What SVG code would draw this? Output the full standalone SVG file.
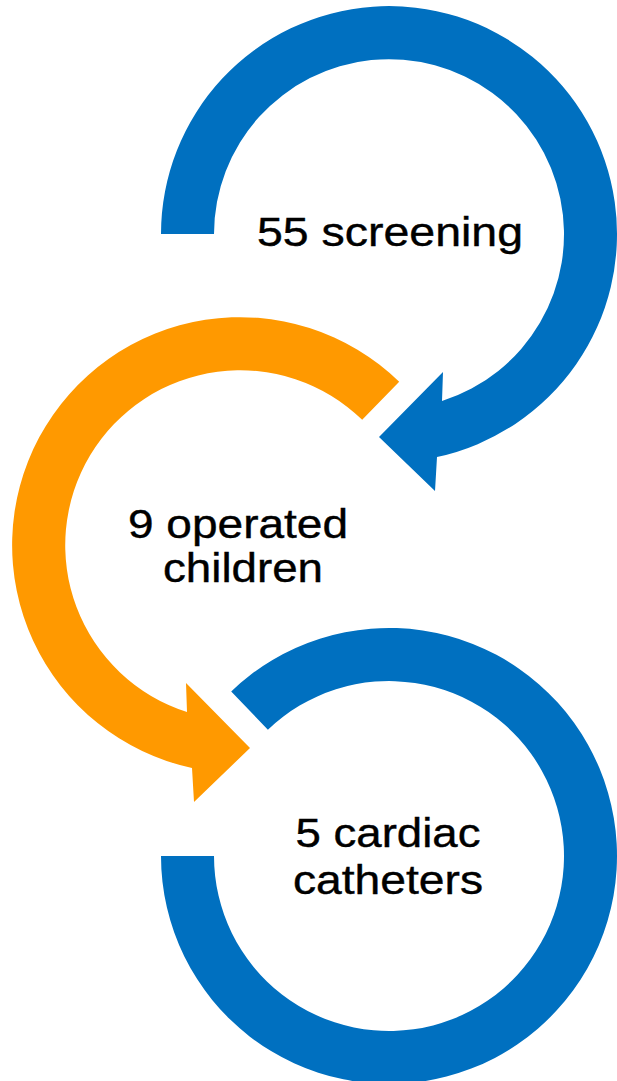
<svg xmlns="http://www.w3.org/2000/svg" width="617" height="1081" viewBox="0 0 617 1081">
  <style>
    .blue { fill: #0070C0; }
    .orange { fill: #FF9900; }
    .label { font-family: "Liberation Sans", Arial, sans-serif; font-size: 41px; fill: #000000; text-anchor: middle; stroke: #000000; stroke-width: 0.4px; }
  </style>
  <rect x="0" y="0" width="617" height="1081" fill="#FFFFFF"/>
  <g id="connectors">
    <path id="arc-screening" class="blue" d="M 161 234 A 228 228 0 1 1 437 457 L 435 491 L 379 437 L 443 372 L 442 401 A 175 175 0 1 0 214 234 Z"/>
    <path id="arc-operated" class="orange" d="M 399.2 381.8 A 228 228 0 1 0 192 768 L 194 802 L 250 748 L 186 683 L 187 712 A 175 175 0 1 1 362.2 419.8 Z"/>
    <path id="arc-catheters" class="blue" d="M 231.2 691.4 A 228 228 0 1 1 161 856 L 214 856 A 175 175 0 1 0 267.9 729.7 Z"/>
  </g>
  <g id="node-screening">
    <text class="label" x="390" y="246" textLength="266" lengthAdjust="spacingAndGlyphs">55 screening</text>
  </g>
  <g id="node-operated">
    <text class="label" x="238" y="538" textLength="220" lengthAdjust="spacingAndGlyphs">9 operated</text>
    <text class="label" x="243" y="582" textLength="160" lengthAdjust="spacingAndGlyphs">children</text>
  </g>
  <g id="node-catheters">
    <text class="label" x="388" y="847" textLength="185" lengthAdjust="spacingAndGlyphs">5 cardiac</text>
    <text class="label" x="388" y="894" textLength="190" lengthAdjust="spacingAndGlyphs">catheters</text>
  </g>
</svg>
